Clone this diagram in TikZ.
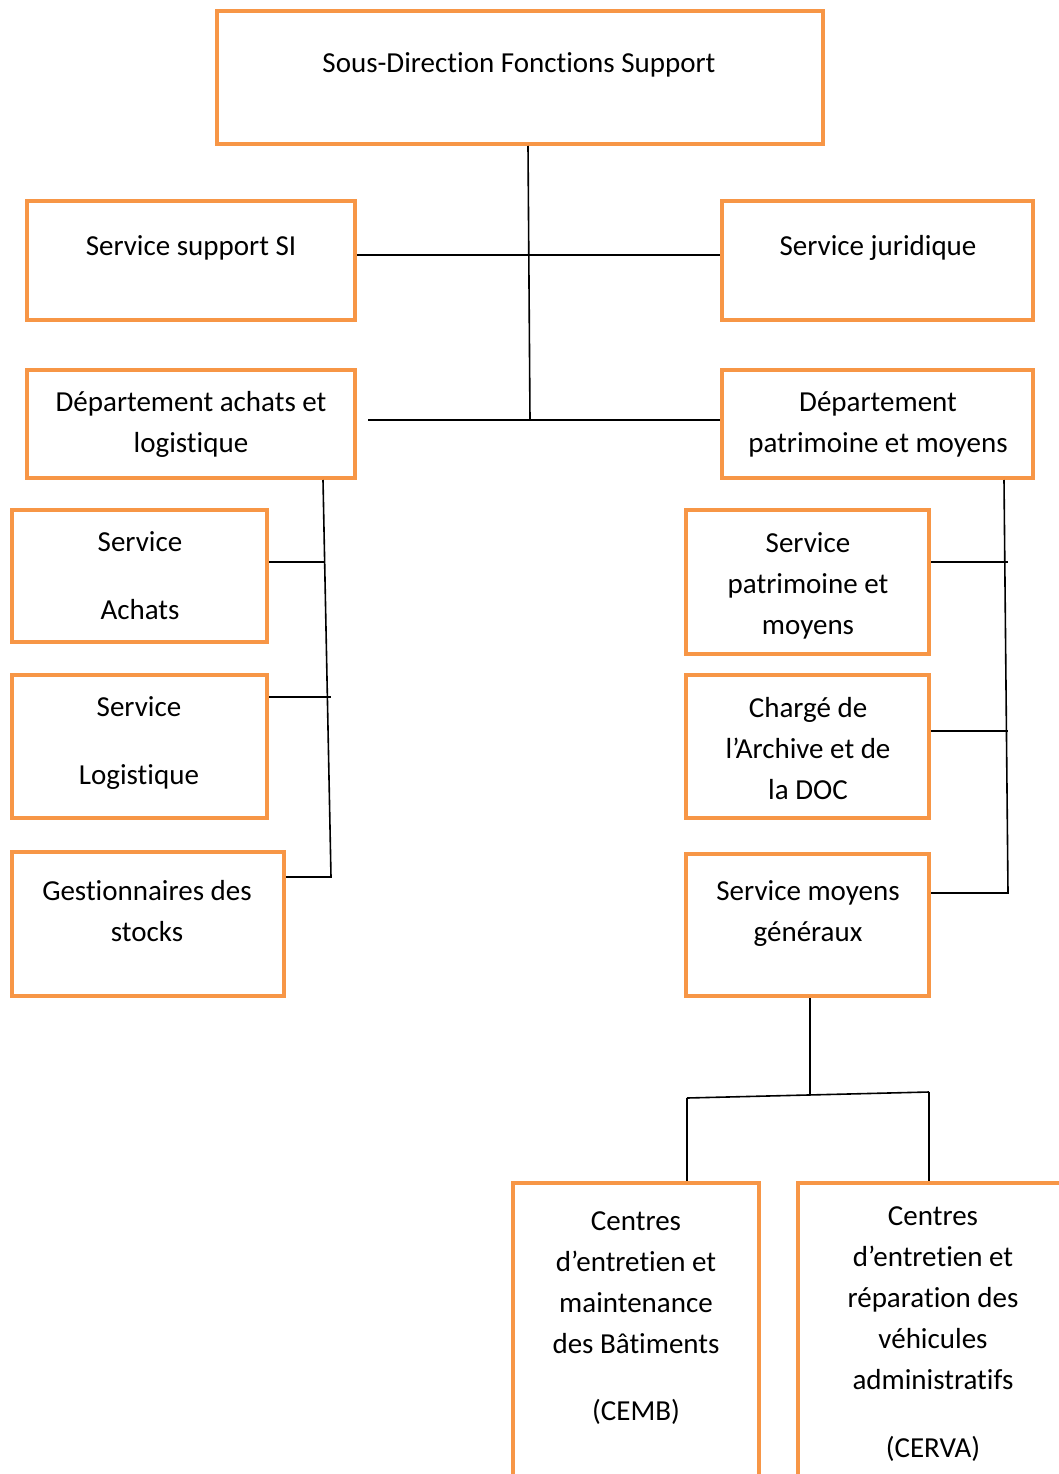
\documentclass[tikz,border=0pt]{standalone}
\usepackage{fontspec}
\setmainfont[Ligatures=NoCommon]{Carlito}
\definecolor{boxorange}{HTML}{F79646}

\begin{document}
\begin{tikzpicture}[x=1pt,y=-1pt,
  box/.style={draw=boxorange,line width=4pt,rectangle,inner sep=0pt},
  txt/.style={anchor=base,align=center,inner sep=0pt,font=\fontsize{29}{41}\selectfont},
  link/.style={draw=black,line width=1.6pt}]
\useasboundingbox (0,0) rectangle (1059,1474);
\begin{scope}
% boxes
\node[box,minimum width=606,minimum height=133] (sds) at (520,77.5) {};
\node[box,minimum width=328,minimum height=119] (ssi) at (191,260.5) {};
\node[box,minimum width=311,minimum height=119] (sjur) at (877.5,260.5) {};
\node[box,minimum width=328,minimum height=108] (dal) at (191,424) {};
\node[box,minimum width=311,minimum height=108] (dpm) at (877.5,424) {};
\node[box,minimum width=255,minimum height=132] (sach) at (139.5,576) {};
\node[box,minimum width=255,minimum height=143] (slog) at (139.5,746.5) {};
\node[box,minimum width=272,minimum height=144] (gst) at (148,924) {};
\node[box,minimum width=243,minimum height=144] (spm) at (807.5,582) {};
\node[box,minimum width=243,minimum height=143] (arch) at (807.5,746.5) {};
\node[box,minimum width=243,minimum height=142] (smg) at (807.5,925) {};
\node[box,minimum width=246,minimum height=317] (cemb) at (636,1341.5) {};
\node[box,minimum width=270,minimum height=317] (cerva) at (933,1341.5) {};

% texts (placed on the baseline of their last line)
\node[txt] (sdst) at (519,73) {Sous-Direction Fonctions Support};
\node[txt] (ssit) at (191,255) {Service support SI};
\node[txt] (sjurt) at (878,255) {Service juridique};
\node[txt] (dalt) at (191,452) {Département achats et\\logistique};
\node[txt] (dpmt) at (878,452) {Département\\patrimoine et moyens};
\node[txt] (sacht) at (140,619) {Service\\[27pt]Achats};
\node[txt] (slogt) at (139,784) {Service\\[27pt]Logistique};
\node[txt] (gstt) at (147,941) {Gestionnaires des\\stocks};
\node[txt] (spmt) at (808,634) {Service\\patrimoine et\\moyens};
\node[txt] (archt) at (808,799) {Chargé de\\l’Archive et de\\la DOC};
\node[txt] (smgt) at (808,941) {Service moyens\\généraux};
\node[txt] (cembt) at (636,1420) {Centres\\d’entretien et\\maintenance\\des Bâtiments\\[26pt](CEMB)};
\node[txt] (cervat) at (933,1457) {Centres\\d’entretien et\\réparation des\\véhicules\\administratifs\\[27pt](CERVA)};

% junctions
\coordinate (hub) at (530,420);
\coordinate (dalend) at (368,420);
\coordinate (la) at (325,562);
\coordinate (ll) at (331,697);
\coordinate (lb) at (331,877);
\coordinate (ra) at (1008,562);
\coordinate (rl) at (1008,731);
\coordinate (rb) at (1008,893);
\coordinate (mid) at (810,1095);
\coordinate (cl) at (687,1098);
\coordinate (cr) at (929,1092);

% connectors
\draw[link] ([xshift=8pt]sds.south) -- (hub);
\draw[link] ([yshift=5.5pt]ssi.east) -- ([yshift=5.5pt]sjur.west);
\draw[link] (dalend) -- (hub) -- ([yshift=4pt]dpm.west);
\draw[link] ([xshift=132pt]dal.south) -- (lb) -- ([yshift=47pt]gst.east);
\draw[link] ([yshift=14pt]sach.east) -- (la);
\draw[link] ([yshift=49.5pt]slog.east) -- (ll);
\draw[link] ([xshift=126.5pt]dpm.south) -- (rb) -- ([yshift=32pt]smg.east);
\draw[link] ([yshift=20pt]spm.east) -- (ra);
\draw[link] ([yshift=15.5pt]arch.east) -- (rl);
\draw[link] ([xshift=2.5pt]smg.south) -- (mid);
\draw[link] (cl) -- (cr);
\draw[link] (cl) -- ([xshift=51pt]cemb.north);
\draw[link] (cr) -- ([xshift=-4pt]cerva.north);
\end{scope}
\end{tikzpicture}
\end{document}
